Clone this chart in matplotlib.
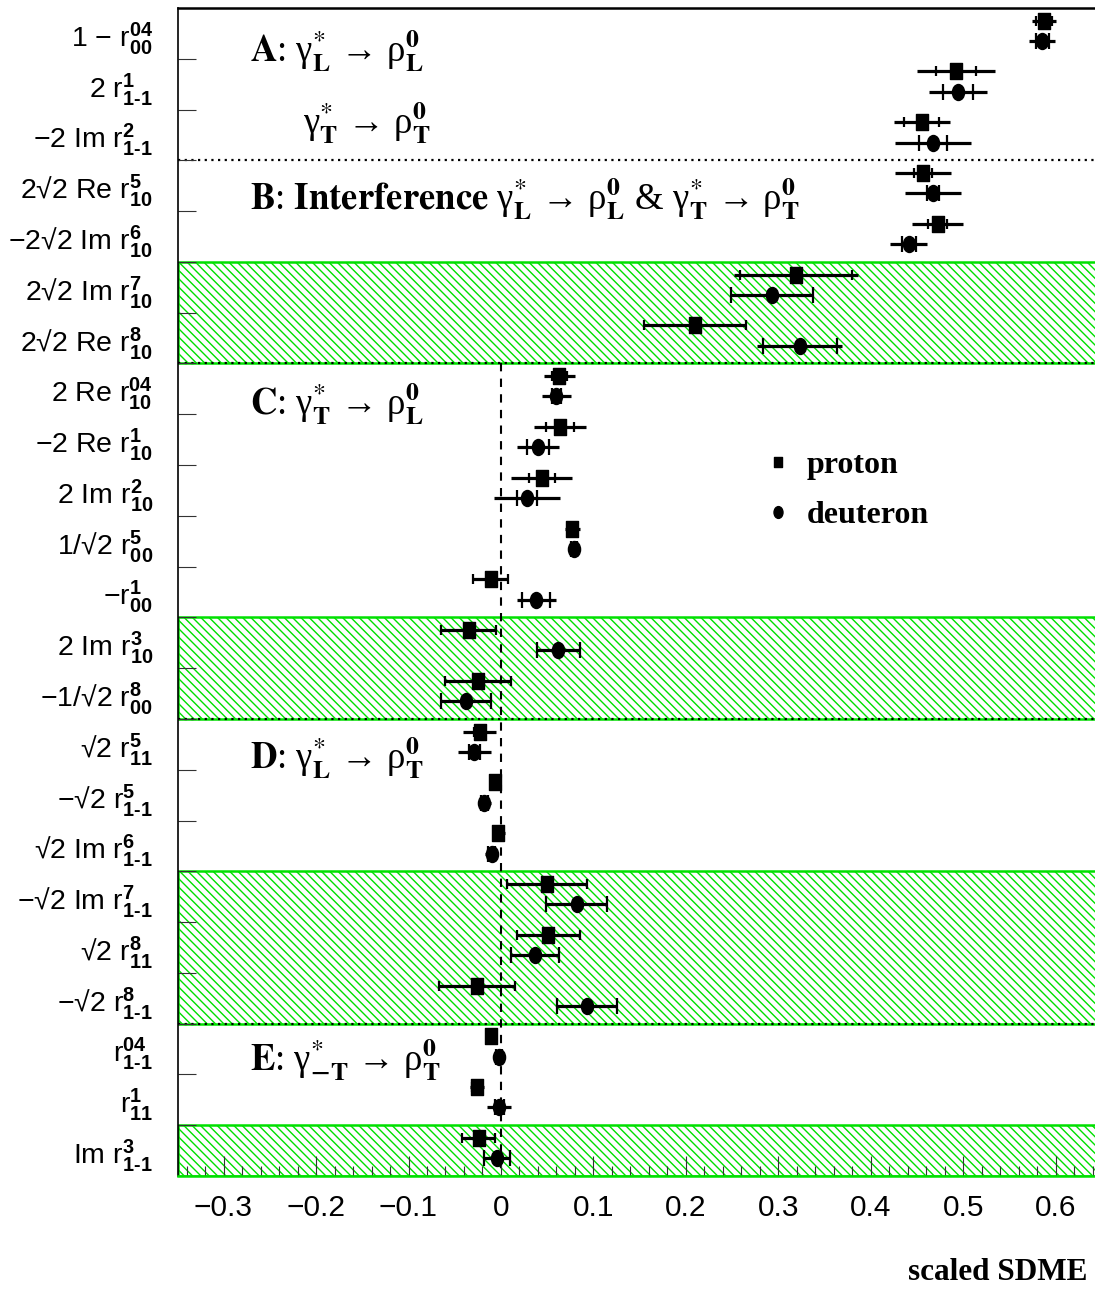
import numpy as np
import matplotlib
matplotlib.use("Agg")
import matplotlib.pyplot as plt
from matplotlib.path import Path
from matplotlib.lines import Line2D
from matplotlib.ticker import MultipleLocator
from matplotlib.font_manager import FontProperties

SANS = 'Liberation Sans'
plt.rcParams['mathtext.fontset'] = 'custom'
plt.rcParams['mathtext.rm'] = SANS
plt.rcParams['mathtext.bf'] = SANS + ':bold'
plt.rcParams['mathtext.it'] = SANS + ':italic'
plt.rcParams['font.family'] = [SANS, 'DejaVu Sans']
plt.rcParams['hatch.linewidth'] = 1.0

# ---------------- data ----------------
H = "\u2010"  # short hyphen for 1-1 subscripts
labels = [
    "1 \u2212 $\\mathrm{r}^{\\mathbf{04}}_{\\mathbf{00}}$",
    "2 $\\mathrm{r}^{\\mathbf{1}}_{\\mathbf{1" + H + "1}}$",
    "\u22122 Im $\\mathrm{r}^{\\mathbf{2}}_{\\mathbf{1" + H + "1}}$",
    "2\u221a2 Re $\\mathrm{r}^{\\mathbf{5}}_{\\mathbf{10}}$",
    "\u22122\u221a2 Im $\\mathrm{r}^{\\mathbf{6}}_{\\mathbf{10}}$",
    "2\u221a2 Im $\\mathrm{r}^{\\mathbf{7}}_{\\mathbf{10}}$",
    "2\u221a2 Re $\\mathrm{r}^{\\mathbf{8}}_{\\mathbf{10}}$",
    "2 Re $\\mathrm{r}^{\\mathbf{04}}_{\\mathbf{10}}$",
    "\u22122 Re $\\mathrm{r}^{\\mathbf{1}}_{\\mathbf{10}}$",
    "2 Im $\\mathrm{r}^{\\mathbf{2}}_{\\mathbf{10}}$",
    "1/\u221a2 $\\mathrm{r}^{\\mathbf{5}}_{\\mathbf{00}}$",
    "\u2212$\\mathrm{r}^{\\mathbf{1}}_{\\mathbf{00}}$",
    "2 Im $\\mathrm{r}^{\\mathbf{3}}_{\\mathbf{10}}$",
    "\u22121/\u221a2 $\\mathrm{r}^{\\mathbf{8}}_{\\mathbf{00}}$",
    "\u221a2 $\\mathrm{r}^{\\mathbf{5}}_{\\mathbf{11}}$",
    "\u2212\u221a2 $\\mathrm{r}^{\\mathbf{5}}_{\\mathbf{1" + H + "1}}$",
    "\u221a2 Im $\\mathrm{r}^{\\mathbf{6}}_{\\mathbf{1" + H + "1}}$",
    "\u2212\u221a2 Im $\\mathrm{r}^{\\mathbf{7}}_{\\mathbf{1" + H + "1}}$",
    "\u221a2 $\\mathrm{r}^{\\mathbf{8}}_{\\mathbf{11}}$",
    "\u2212\u221a2 $\\mathrm{r}^{\\mathbf{8}}_{\\mathbf{1" + H + "1}}$",
    "$\\mathrm{r}^{\\mathbf{04}}_{\\mathbf{1" + H + "1}}$",
    "$\\mathrm{r}^{\\mathbf{1}}_{\\mathbf{11}}$",
    "Im $\\mathrm{r}^{\\mathbf{3}}_{\\mathbf{1" + H + "1}}$",
]

p_val = [0.587, 0.492, 0.455, 0.456, 0.472, 0.319, 0.210, 0.063, 0.064, 0.044, 0.077, -0.011,
         -0.035, -0.025, -0.023, -0.006, -0.003, 0.050, 0.051, -0.026, -0.011, -0.026, -0.024]
p_stat = [0.009, 0.022, 0.019, 0.010, 0.010, 0.061, 0.055, 0.008, 0.015, 0.014, 0.005, 0.019,
          0.030, 0.036, 0.006, 0.004, 0.004, 0.043, 0.034, 0.041, 0.003, 0.005, 0.018]
p_tot = [0.013, 0.042, 0.030, 0.030, 0.028, 0.067, 0.055, 0.017, 0.028, 0.033, 0.008, 0.019,
         0.030, 0.036, 0.018, 0.006, 0.007, 0.043, 0.034, 0.041, 0.005, 0.008, 0.018]

d_val = [0.585, 0.494, 0.467, 0.467, 0.441, 0.293, 0.323, 0.060, 0.040, 0.028, 0.079, 0.038,
         0.062, -0.038, -0.029, -0.018, -0.010, 0.082, 0.037, 0.093, -0.002, -0.002, -0.004]
d_stat = [0.007, 0.016, 0.015, 0.006, 0.008, 0.044, 0.040, 0.005, 0.012, 0.011, 0.003, 0.015,
          0.023, 0.027, 0.006, 0.004, 0.004, 0.033, 0.026, 0.032, 0.003, 0.005, 0.014]
d_tot = [0.014, 0.031, 0.041, 0.030, 0.020, 0.044, 0.046, 0.016, 0.023, 0.036, 0.005, 0.021,
         0.023, 0.027, 0.018, 0.007, 0.007, 0.033, 0.026, 0.032, 0.006, 0.013, 0.014]

bands = [(5, 7), (12, 14), (17, 20), (22, 23)]
xticks = [-0.3, -0.2, -0.1, 0.0, 0.1, 0.2, 0.3, 0.4, 0.5, 0.6]
xticklabels = ["\u22120.3", "\u22120.2", "\u22120.1", "0", "0.1", "0.2", "0.3", "0.4", "0.5", "0.6"]

# ---------------- figure ----------------
W, Hpx = 1095, 1290
fig = plt.figure(figsize=(W / 100, Hpx / 100), dpi=100)
ax = fig.add_axes([178 / W, 1 - 1176 / Hpx, (1100 - 178) / W, (1176 - 8) / Hpx])
ax.set_xlim(-0.3492, 0.6476)
ax.set_ylim(23, 0)

green = '#00e000'
for y0, y1 in bands:
    ax.axhspan(y0, y1, facecolor='white', edgecolor=green, hatch='\\\\\\\\', lw=1.8, zorder=0.5)
    if y1 < 23:
        ax.axhline(y1, color='black', ls=(0, (1, 2)), lw=1.6, zorder=1)
ax.axhline(3, color='black', ls=(0, (1, 2)), lw=1.6, zorder=1)
ax.plot([0, 0], [7, 23], color='black', ls=(0, (4, 3.5)), lw=1.5, zorder=1)

n = len(labels)
rows = np.arange(n)
yp = rows + 0.25
yd = rows + 0.65

rect = Path([(-0.4, -0.5), (0.4, -0.5), (0.4, 0.5), (-0.4, 0.5), (-0.4, -0.5)],
            [Path.MOVETO, Path.LINETO, Path.LINETO, Path.LINETO, Path.CLOSEPOLY])
circ = Path.unit_circle()
ell = Path(circ.vertices * np.array([0.38, 0.5]), circ.codes)

pv, ps, pt = map(np.array, (p_val, p_stat, p_tot))
dv, ds, dt = map(np.array, (d_val, d_stat, d_tot))

ax.hlines(yp, pv - pt, pv + pt, color='black', lw=2.3, zorder=3)
ax.hlines(yd, dv - dt, dv + dt, color='black', lw=2.3, zorder=3)
ax.plot(np.r_[pv - ps, pv + ps], np.r_[yp, yp], ls='none', marker='|', ms=7, mew=1.6, color='black', zorder=3)
ax.plot(np.r_[dv - ds, dv + ds], np.r_[yd, yd], ls='none', marker='|', ms=12, mew=1.6, color='black', zorder=3)
ax.plot(pv, yp, ls='none', marker=rect, ms=11, color='black', zorder=4)
ax.plot(dv, yd, ls='none', marker=ell, ms=11.5, color='black', zorder=4)

# ---------------- axes styling ----------------
ax.spines['right'].set_visible(False)
ax.spines['top'].set_linewidth(1.8)
ax.spines['left'].set_linewidth(1.2)
ax.spines['bottom'].set_color(green)
ax.spines['bottom'].set_linewidth(1.8)

ax.set_yticks(rows + 0.5)
ax.set_yticklabels(labels)
ax.set_yticks(np.arange(1, n), minor=True)
ax.tick_params(axis='y', which='major', length=0, pad=18, labelsize=20.5)
ax.tick_params(axis='y', which='minor', direction='in', length=13, width=0.8, color='#333333')

ax.set_xticks(xticks)
ax.set_xticklabels(xticklabels)
ax.xaxis.set_minor_locator(MultipleLocator(0.02))
ax.tick_params(axis='x', which='major', direction='in', length=14.4, width=0.8, color='#333333',
               labelsize=21.5, pad=13)
ax.tick_params(axis='x', which='minor', direction='in', length=7.2, width=0.8, color='#333333')

# ---------------- annotations ----------------
tk = dict(fontsize=26.5, math_fontfamily='stix', family='Liberation Serif',
          va='baseline', ha='left', zorder=5)
g = "\u03b3"
r_ = "\u03c1"
ar = " \u2192 "
def trans(a, b):
    return (g + "$^{*}_{\\mathbf{" + a + "}}$" + ar + r_ + "$^{\\mathbf{0}}_{\\mathbf{" + b + "}}$")

ax.text(-0.271, 1.08, "$\\mathbf{A}$: " + trans("L", "L"), **tk)
ax.text(-0.214, 2.48, trans("T", "T"), **tk)
ax.text(-0.271, 3.98, "$\\mathbf{B}$: $\\mathbf{Interference}$ " + trans("L", "L") + " & " + trans("T", "T"), **tk)
ax.text(-0.271, 8.03, "$\\mathbf{C}$: " + trans("T", "L"), **tk)
ax.text(-0.271, 14.99, "$\\mathbf{D}$: " + trans("L", "T"), **tk)
ax.text(-0.271, 20.95, "$\\mathbf{E}$: " + trans("-T", "T"), **tk)

# legend
hp = Line2D([], [], ls='none', marker=rect, ms=7.5, color='black')
hd = Line2D([], [], ls='none', marker=ell, ms=8.5, color='black')
leg = ax.legend([hp, hd], ['proton', 'deuteron'], loc='upper left',
                bbox_to_anchor=((768 - 178) / 922, 1 - (451 - 8) / 1168),
                frameon=False, borderpad=0, borderaxespad=0, handlelength=0.6,
                handletextpad=0.62, labelspacing=0.64,
                prop=FontProperties(family='Liberation Serif', weight='bold', size=23))

fig.text(1088 / W, 1 - 1280 / Hpx, "scaled SDME", ha='right', va='baseline',
         fontsize=22.5, family='Liberation Serif', weight='bold')

fig.savefig("out.png", dpi=100)
